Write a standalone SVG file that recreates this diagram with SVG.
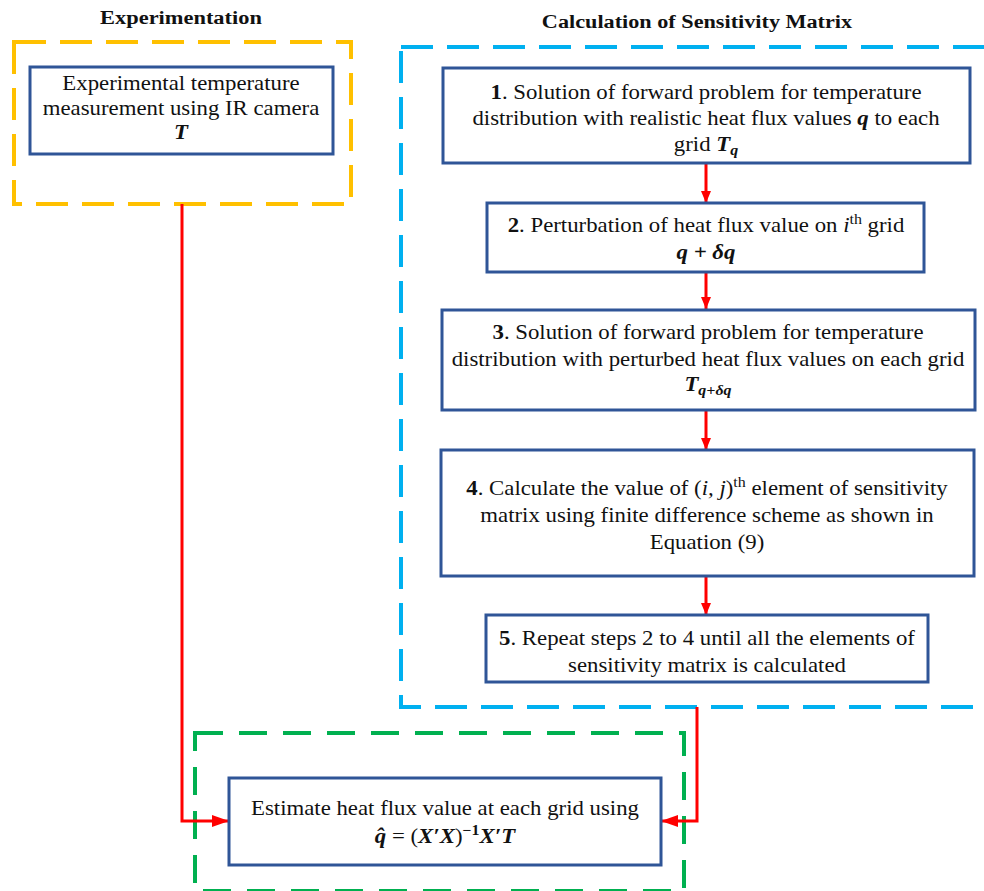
<svg xmlns="http://www.w3.org/2000/svg" width="984" height="891" viewBox="0 0 984 891">
<defs>
<marker id="ah" viewBox="0 0 12 10" refX="12" refY="5" markerWidth="12" markerHeight="10" orient="auto" markerUnits="userSpaceOnUse">
<path d="M0,0 L12,5 L0,10 z" fill="#FF0000"/>
</marker>
<marker id="ahl" viewBox="0 0 17 12" refX="17" refY="6" markerWidth="17" markerHeight="12" orient="auto" markerUnits="userSpaceOnUse">
<path d="M0,0 L17,6 L0,12 z" fill="#FF0000"/>
</marker>
<style>
.t{font-family:"Liberation Serif","Times New Roman",serif;font-size:20px;fill:#111;text-anchor:middle}
.h{font-family:"Liberation Serif","Times New Roman",serif;font-size:19px;font-weight:bold;fill:#111;text-anchor:middle}
.b{font-weight:bold}
.m{font-weight:bold;font-style:italic}
.i{font-style:italic}
.node{fill:#fff;stroke:#2F5597;stroke-width:3}
.grp{fill:none;stroke-width:4}
.conn{fill:none;stroke:#FF0000;stroke-width:3}
.v{marker-end:url(#ah)}
.hz{marker-end:url(#ahl)}
</style>
</defs>
<rect width="984" height="891" fill="#fff"/>
<g id="groups">
<rect class="grp" x="14" y="42" width="337" height="162" stroke="#FFC000" stroke-dasharray="32 14"/>
<rect class="grp" x="401" y="47" width="600" height="660" stroke="#00B0F0" stroke-dasharray="32 14"/>
<rect class="grp" x="195" y="733" width="489" height="158" stroke="#00B050" stroke-dasharray="28 16"/>
<text class="h" transform="translate(181,0) scale(1.18,1)" x="0" y="24">Experimentation</text>
<text class="h" transform="translate(697,0) scale(1.17,1)" x="0" y="28">Calculation  of Sensitivity Matrix</text>
</g>
<g id="connectors">
<path class="conn hz" d="M182,204 V821 H229"/>
<path class="conn hz" d="M697,707 V821 H661"/>
<path class="conn v" d="M706,164 V203"/>
<path class="conn v" d="M706,272 V309"/>
<path class="conn v" d="M706,411 V450"/>
<path class="conn v" d="M706,576 V615"/>
</g>
<g id="n0">
<rect class="node" x="30" y="67" width="303" height="87"/>
<text class="t" transform="translate(181,0) scale(1.14,1)" x="0" y="90">Experimental temperature</text>
<text class="t" transform="translate(181,0) scale(1.14,1)" x="0" y="115">measurement using IR camera</text>
<text class="t m" transform="translate(181,0) scale(1.14,1)" x="0" y="139">T</text>
</g>
<g id="n1">
<rect class="node" x="443" y="68" width="527" height="95"/>
<text class="t" transform="translate(706,0) scale(1.14,1)" x="0" y="99"><tspan class="b">1</tspan>. Solution of forward problem for temperature</text>
<text class="t" transform="translate(706,0) scale(1.14,1)" x="0" y="125">distribution with realistic  heat flux values <tspan class="m">q</tspan> to each</text>
<text class="t" transform="translate(706,0) scale(1.14,1)" x="0" y="151">grid <tspan class="m">T</tspan><tspan class="m" font-size="14" dy="4">q</tspan></text>
</g>
<g id="n2">
<rect class="node" x="487" y="203" width="437" height="69"/>
<text class="t" transform="translate(706,0) scale(1.14,1)" x="0" y="232"><tspan class="b">2</tspan>. Perturbation of heat flux value on <tspan class="i">i</tspan><tspan font-size="14" dy="-8">th</tspan><tspan dy="8"> grid</tspan></text>
<text class="t m" transform="translate(706,0) scale(1.14,1)" x="0" y="259">q + δq</text>
</g>
<g id="n3">
<rect class="node" x="442" y="310" width="533" height="100"/>
<text class="t" transform="translate(708,0) scale(1.14,1)" x="0" y="339"><tspan class="b">3</tspan>. Solution of forward problem for temperature</text>
<text class="t" transform="translate(708,0) scale(1.14,1)" x="0" y="366">distribution with perturbed heat flux values on each grid</text>
<text class="t" transform="translate(708,0) scale(1.14,1)" x="0" y="391"><tspan class="m">T</tspan><tspan class="m" font-size="14" dy="4">q+δq</tspan></text>
</g>
<g id="n4">
<rect class="node" x="441" y="450" width="533" height="126"/>
<text class="t" transform="translate(707,0) scale(1.14,1)" x="0" y="495"><tspan class="b">4</tspan>. Calculate the value of (<tspan class="i">i, j</tspan>)<tspan font-size="14" dy="-8">th</tspan><tspan dy="8"> element of sensitivity</tspan></text>
<text class="t" transform="translate(707,0) scale(1.14,1)" x="0" y="522">matrix using finite  difference scheme as shown in</text>
<text class="t" transform="translate(707,0) scale(1.14,1)" x="0" y="549">Equation (9)</text>
</g>
<g id="n5">
<rect class="node" x="486" y="615" width="442" height="67"/>
<text class="t" transform="translate(707,0) scale(1.14,1)" x="0" y="645"><tspan class="b">5</tspan>. Repeat steps 2 to 4 until all the elements of</text>
<text class="t" transform="translate(707,0) scale(1.14,1)" x="0" y="672">sensitivity  matrix is calculated</text>
</g>
<g id="n6">
<rect class="node" x="229" y="778" width="432" height="87"/>
<text class="t" transform="translate(445,0) scale(1.14,1)" x="0" y="815">Estimate heat flux value at each grid using</text>
<text class="t" transform="translate(445,0) scale(1.14,1)" x="0" y="843"><tspan class="m">q̂</tspan> = (<tspan class="m">X′X</tspan>)<tspan font-size="14" dy="-8" class="b">−1</tspan><tspan class="m" dy="8">X′T</tspan></text>
</g>
</svg>
